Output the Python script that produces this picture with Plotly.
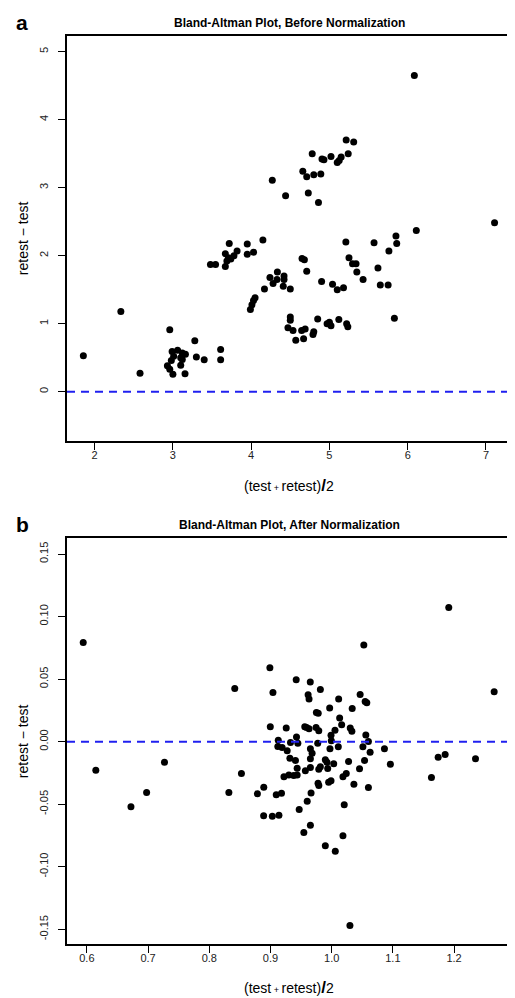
import plotly.graph_objects as go

# ---------------- data ----------------
a_x = [1.856, 2.335, 2.58, 2.96, 3.28, 3.61, 3.61, 3.30, 3.40, 3.155,
       2.99, 3.06, 3.12, 3.16, 3.01, 3.10, 2.98, 3.12, 2.93, 2.96,
       3.00, 3.10, 3.48, 3.545, 3.67, 3.72, 3.95, 4.15, 4.03, 3.95,
       3.67, 3.82, 3.78, 3.74, 3.69, 3.71, 4.17, 4.05, 4.03, 4.01,
       3.99, 5.214, 5.31, 4.78, 4.905, 4.93, 5.02, 5.10, 5.125, 5.15,
       5.24, 4.66, 4.71, 4.80, 4.89, 4.27, 4.44, 4.73, 4.86, 6.11,
       5.85, 5.86, 5.76, 5.21, 5.57, 5.25, 5.295, 5.34, 5.35, 5.43,
       5.62, 5.65, 5.75, 5.83, 4.65, 4.68, 4.71, 4.90, 5.04, 5.10,
       5.18, 4.335, 4.24, 4.33, 4.28, 4.42, 4.42, 4.41, 4.50, 4.50,
       4.50, 4.47, 4.535, 4.645, 4.69, 4.57, 4.67, 4.79, 4.80, 4.85,
       4.97, 5.00, 5.02, 5.12, 5.22, 5.235, 6.085, 7.11]
a_y = [0.53, 1.18, 0.27, 0.91, 0.75, 0.62, 0.47, 0.51, 0.47, 0.265,
       0.59, 0.61, 0.57, 0.55, 0.52, 0.50, 0.46, 0.475, 0.38, 0.33,
       0.255, 0.39, 1.87, 1.87, 1.84, 2.18, 2.17, 2.23, 2.05, 2.02,
       2.03, 2.07, 2.00, 1.95, 1.92, 1.97, 1.51, 1.38, 1.34, 1.28,
       1.21, 3.70, 3.67, 3.50, 3.42, 3.41, 3.46, 3.37, 3.40, 3.45,
       3.50, 3.24, 3.16, 3.19, 3.20, 3.11, 2.88, 2.92, 2.78, 2.37,
       2.29, 2.18, 2.07, 2.20, 2.19, 1.97, 1.88, 1.88, 1.76, 1.65,
       1.82, 1.57, 1.57, 1.08, 1.96, 1.94, 1.77, 1.62, 1.58, 1.50,
       1.53, 1.76, 1.68, 1.65, 1.59, 1.70, 1.65, 1.55, 1.51, 1.10,
       1.05, 0.94, 0.90, 0.90, 0.92, 0.755, 0.78, 0.84, 0.88, 1.07,
       1.00, 1.02, 0.97, 1.06, 1.00, 0.955, 4.65, 2.485]

b_x = [0.594, 0.8416, 0.6146, 0.7268, 0.6976, 0.672, 0.8525, 0.832, 0.8786, 0.889,
       1.0525, 0.899, 0.942, 0.965, 0.904, 0.9815, 0.9615, 0.963, 1.0114, 1.0465,
       1.0547, 1.0574, 0.9967, 1.0335, 0.975, 0.978, 1.013, 1.0163, 0.8997, 0.9257,
       0.956, 0.959, 0.963, 0.9745, 0.9789, 1.0054, 1.0303, 1.033, 0.9989, 1.0558,
       0.9425, 0.9127, 0.9994, 1.060, 0.9327, 0.9447, 0.9772, 0.912, 0.919, 1.0108,
       1.051, 0.9972, 0.9652, 1.0862, 0.9273, 0.968, 1.0628, 0.9317, 0.9408, 0.9652,
       0.9896, 0.9923, 1.0276, 1.0537, 1.0033, 1.0959, 0.9436, 0.9789, 0.9815, 0.9652,
       0.957, 0.9935, 1.0455, 1.0238, 1.0184, 0.922, 0.930, 0.938, 0.9436, 0.9094,
       0.918, 0.9777, 0.979, 0.995, 0.9989, 1.0363, 1.060, 0.9663, 0.96, 1.0205,
       0.9469, 0.8888, 0.903, 0.9138, 0.9652, 0.9545, 1.0184, 0.9896, 1.0059, 1.0298,
       1.1913, 1.2655, 1.174, 1.1854, 1.235, 1.163]
b_y = [0.0793, 0.0425, -0.0228, -0.0164, -0.0407, -0.052, -0.0255, -0.0407, -0.0417, -0.0364,
       0.0772, 0.059, 0.0495, 0.0476, 0.0393, 0.0417, 0.0375, 0.034, 0.034, 0.0377,
       0.032, 0.031, 0.0268, 0.0265, 0.0233, 0.0226, 0.0188, 0.0135, 0.0119, 0.0108,
       0.0119, 0.0113, 0.0103, 0.0113, 0.0087, 0.009, 0.0108, 0.0082, 0.005, 0.0052,
       0.0036, 0.001, 0.0007, 0.0001, -0.0007, -0.0012, -0.0012, -0.0039, -0.0047, -0.0041,
       -0.0041, -0.0057, -0.0057, -0.0057, -0.0073, -0.0092, -0.0084, -0.0132, -0.015, -0.0137,
       -0.0145, -0.0164, -0.0159, -0.015, -0.0177, -0.018, -0.0212, -0.022, -0.0201, -0.0207,
       -0.0233, -0.0215, -0.0217, -0.0255, -0.0281, -0.028, -0.0266, -0.027, -0.0266, -0.0425,
       -0.0412, -0.0332, -0.035, -0.0324, -0.0313, -0.034, -0.0367, -0.041, -0.0476, -0.0505,
       -0.0543, -0.0593, -0.0596, -0.0588, -0.0668, -0.0727, -0.0753, -0.0833, -0.0876, -0.147,
       0.1073, 0.0399, -0.0124, -0.0103, -0.0137, -0.0287]

a_xticks = [2, 3, 4, 5, 6, 7]
a_xticktext = ["2", "3", "4", "5", "6", "7"]
a_yticks = [0, 1, 2, 3, 4, 5]
a_yticktext = ["0", "1", "2", "3", "4", "5"]
b_xticks = [0.6, 0.7, 0.8, 0.9, 1.0, 1.1, 1.2]
b_xticktext = ["0.6", "0.7", "0.8", "0.9", "1.0", "1.1", "1.2"]
b_yticks = [-0.15, -0.10, -0.05, 0.0, 0.05, 0.10, 0.15]
b_yticktext = ["-0.15", "-0.10", "-0.05", "0.00", "0.05", "0.10", "0.15"]
ref_line = 0.0

title_a = "Bland-Altman Plot, Before Normalization"
title_b = "Bland-Altman Plot, After Normalization"
xlab = "(test<span style='font-size:9px'> + </span>retest)<span style='font-size:17px'><b>/</b></span>2"
ylab = "retest \u2212 test"

# ---------------- figure ----------------
W, H = 515, 998
ML, MR, MT, MB = 59, 10, 28, 62
PW, PH = W - ML - MR, H - MT - MB


def py2paper(py):
    return (H - MB - py) / PH


def px2paper(px):
    return (px - ML) / PW


FONT = "Liberation Sans, Arial, sans-serif"

fig = go.Figure()
fig.add_trace(go.Scatter(x=a_x, y=a_y, mode="markers", xaxis="x", yaxis="y",
                         marker=dict(color="black", size=7), showlegend=False))
fig.add_trace(go.Scatter(x=b_x, y=b_y, mode="markers", xaxis="x2", yaxis="y2",
                         marker=dict(color="black", size=7), showlegend=False))

axis_common = dict(showgrid=False, zeroline=False, showline=True, mirror=True,
                   linecolor="black", linewidth=1.5, ticks="outside", ticklen=7,
                   tickwidth=1.2, tickcolor="black",
                   tickfont=dict(family=FONT, size=11, color="#222"))

fig.update_layout(
    width=W, height=H,
    margin=dict(l=ML, r=MR, t=MT, b=MB),
    plot_bgcolor="white", paper_bgcolor="white",
    xaxis=dict(domain=[0, 1], anchor="y", range=[1.647, 7.32],
               tickvals=a_xticks, ticktext=a_xticktext, ticklabelstandoff=-4, **axis_common),
    yaxis=dict(domain=[py2paper(433), 1], anchor="x", range=[-0.725, 5.23],
               tickvals=a_yticks, ticktext=a_yticktext, tickangle=-90, ticklabelstandoff=6,
               **axis_common),
    xaxis2=dict(domain=[0, 1], anchor="y2", range=[0.5675, 1.293],
                tickvals=b_xticks, ticktext=b_xticktext, ticklabelstandoff=-4, **axis_common),
    yaxis2=dict(domain=[0, py2paper(530)], anchor="x2", range=[-0.1618, 0.1628],
                tickvals=b_yticks, ticktext=b_yticktext, tickangle=-90, ticklabelstandoff=6,
                **axis_common),
)

dash_line = dict(color="#2020f0", width=2, dash="8px,6px")
fig.add_shape(type="line", xref="x domain", yref="y", x0=0, x1=1, y0=ref_line, y1=ref_line,
              line=dash_line)
fig.add_shape(type="line", xref="x2 domain", yref="y2", x0=0, x1=1, y0=ref_line, y1=ref_line,
              line=dash_line)

ann = []
ann.append(dict(text="<b>a</b>", x=px2paper(14), y=py2paper(15), xref="paper", yref="paper",
                showarrow=False, font=dict(family=FONT, size=21, color="black"),
                xanchor="center", yanchor="middle"))
ann.append(dict(text="<b>b</b>", x=px2paper(14), y=py2paper(516), xref="paper", yref="paper",
                showarrow=False, font=dict(family=FONT, size=21, color="black"),
                xanchor="center", yanchor="middle"))
ann.append(dict(text="<b>" + title_a + "</b>", x=px2paper(282), y=py2paper(15), xref="paper",
                yref="paper", showarrow=False, font=dict(family=FONT, size=12, color="black"),
                xanchor="center", yanchor="middle"))
ann.append(dict(text="<b>" + title_b + "</b>", x=px2paper(282), y=py2paper(517), xref="paper",
                yref="paper", showarrow=False, font=dict(family=FONT, size=12, color="black"),
                xanchor="center", yanchor="middle"))
for py in (478, 979):
    ann.append(dict(text=xlab, x=px2paper(282), y=py2paper(py), xref="paper", yref="paper",
                    showarrow=False, font=dict(family=FONT, size=14, color="black"),
                    xanchor="center", yanchor="middle"))
for py in (230, 733):
    ann.append(dict(text=ylab, x=px2paper(15), y=py2paper(py), xref="paper", yref="paper",
                    showarrow=False, textangle=-90, font=dict(family=FONT, size=14, color="black"),
                    xanchor="center", yanchor="middle"))
fig.update_layout(annotations=ann)

fig.write_html("out.html")
